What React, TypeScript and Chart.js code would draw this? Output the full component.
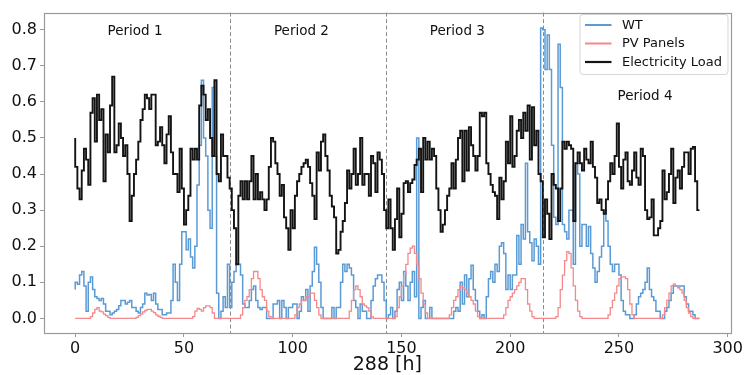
import React, { useEffect, useRef } from 'react';
import { Chart, registerables } from 'chart.js';

Chart.register(...registerables);

// ---------- data (hourly, 288 h) ----------
const LOAD_P1 = [
  0.50, 0.42, 0.36, 0.33, 0.41, 0.47, 0.44, 0.37, 0.57, 0.61, 0.49, 0.62, 0.55, 0.58, 0.38, 0.51, 0.46, 0.59, 0.67, 0.46,
  0.48, 0.54, 0.50, 0.45, 0.48, 0.40, 0.27, 0.34, 0.40, 0.44, 0.49, 0.55, 0.58, 0.62, 0.61,
  0.58, 0.62, 0.62, 0.48, 0.49, 0.53, 0.48, 0.43, 0.51, 0.56, 0.46, 0.40, 0.40, 0.35, 0.47, 0.36, 0.26, 0.30, 0.34, 0.47,
  0.44, 0.47, 0.44, 0.59, 0.645, 0.62, 0.55, 0.58, 0.50, 0.45, 0.66, 0.40, 0.38, 0.51, 0.45, 0.45, 0.39,
];
const LOAD_P2 = [
  0.36, 0.30, 0.25, 0.15, 0.34, 0.38, 0.33, 0.38, 0.33, 0.38, 0.45, 0.33, 0.40, 0.33, 0.35, 0.33, 0.30, 0.33, 0.42, 0.50,
  0.49, 0.43, 0.40, 0.34, 0.37, 0.28, 0.25, 0.19, 0.30, 0.25, 0.34, 0.38, 0.40, 0.42, 0.43,
  0.44, 0.42, 0.375, 0.34, 0.275, 0.46, 0.41, 0.49, 0.51, 0.45, 0.41, 0.34, 0.31, 0.28, 0.18, 0.19, 0.24, 0.27, 0.32, 0.41,
  0.36, 0.40, 0.47, 0.37, 0.40, 0.50, 0.37, 0.40, 0.40, 0.34, 0.45, 0.43, 0.35, 0.46, 0.44, 0.40, 0.30,
];
const LOAD_P3 = [
  0.25, 0.33, 0.25, 0.19, 0.275, 0.36, 0.225, 0.29, 0.375, 0.38, 0.35, 0.375, 0.385, 0.425, 0.44, 0.47, 0.35, 0.50, 0.44, 0.49,
  0.44, 0.47, 0.45, 0.36, 0.30, 0.24, 0.26, 0.30, 0.34, 0.36, 0.43, 0.36, 0.44, 0.50, 0.52,
  0.38, 0.52, 0.41, 0.53, 0.48, 0.45, 0.41, 0.45, 0.57, 0.56, 0.57, 0.43, 0.40, 0.37, 0.35, 0.34, 0.275, 0.39, 0.33, 0.38,
  0.49, 0.43, 0.56, 0.42, 0.45, 0.52, 0.55, 0.50, 0.57, 0.52, 0.59, 0.44, 0.585, 0.48, 0.52, 0.40, 0.38,
];
const LOAD_P4 = [
  0.225, 0.33, 0.29, 0.22, 0.40, 0.37, 0.36, 0.27, 0.36, 0.49, 0.47, 0.49, 0.48, 0.47, 0.27, 0.43, 0.46, 0.43, 0.41, 0.47,
  0.44, 0.43, 0.49, 0.42, 0.39, 0.32, 0.33, 0.30, 0.29, 0.33, 0.38, 0.43, 0.40, 0.45,
  0.54, 0.42, 0.36, 0.44, 0.46, 0.38, 0.37, 0.41, 0.46, 0.39, 0.37, 0.47, 0.45, 0.30, 0.275, 0.28, 0.33, 0.23, 0.23, 0.25,
  0.27, 0.41, 0.33, 0.35, 0.40, 0.47, 0.32, 0.39, 0.41, 0.36, 0.42, 0.46, 0.46, 0.40, 0.47, 0.475, 0.38, 0.30,
];

const WT_P1 = [
  0.08, 0.10, 0.095, 0.12, 0.13, 0.09, 0.02, 0.10, 0.115, 0.08, 0.06, 0.055, 0.05, 0.055, 0.04, 0.02, 0.02, 0.01, 0.015,
  0.02, 0.025, 0.035, 0.05, 0.05, 0.04, 0.045, 0.05, 0.03, 0.03, 0.02, 0.015, 0.03, 0.04, 0.07, 0.065,
  0.066, 0.05, 0.07, 0.04, 0.025, 0.025, 0.01, 0.01, 0.015, 0.015, 0.05, 0.15, 0.10, 0.05, 0.15, 0.24, 0.24, 0.19, 0.22, 0.17,
  0.14, 0.20, 0.37, 0.48, 0.66, 0.50, 0.45, 0.30, 0.25, 0.64, 0.45, 0.07, 0.0, 0.02, 0.06, 0.03, 0.15,
];
const WT_P2 = [
  0.03, 0.10, 0.13, 0.15, 0.15, 0.12, 0.04, 0.03, 0.03, 0.05, 0.08, 0.09, 0.05, 0.03, 0.025, 0.03, 0.03, 0.0, 0.0, 0.0,
  0.04, 0.04, 0.05, 0.0, 0.05, 0.03, 0.0, 0.03, 0.03, 0.04, 0.04, 0.0, 0.02, 0.06, 0.05,
  0.08, 0.02, 0.09, 0.13, 0.197, 0.15, 0.10, 0.03, 0.0, 0.0, 0.0, 0.0, 0.03, 0.0, 0.03, 0.03, 0.10, 0.15, 0.13, 0.15,
  0.14, 0.12, 0.05, 0.03, 0.0, 0.04, 0.02, 0.02, 0.0, 0.0, 0.05, 0.09, 0.11, 0.12, 0.12, 0.10, 0.05,
];
const WT_P3 = [
  0.0, 0.01, 0.03, 0.0, 0.02, 0.08, 0.10, 0.05, 0.13, 0.09, 0.05, 0.10, 0.13, 0.06, 0.50, 0.0, 0.03, 0.05, 0.0, 0.0,
  0.03, 0.0, 0.0, 0.0, 0.0, 0.0, 0.0, 0.0, 0.0, 0.0, 0.0, 0.02, 0.03, 0.02, 0.10,
  0.04, 0.12, 0.06, 0.11, 0.147, 0.08, 0.05, 0.02, 0.0, 0.01, 0.0, 0.06, 0.11, 0.13, 0.10, 0.15, 0.13, 0.20, 0.21, 0.18,
  0.08, 0.12, 0.08, 0.12, 0.12, 0.23, 0.15, 0.26, 0.22, 0.43, 0.24, 0.21, 0.16, 0.22, 0.20, 0.15, 0.805,
];
const WT_P4 = [
  0.80, 0.69, 0.785, 0.69, 0.48, 0.28, 0.26, 0.76, 0.64, 0.26, 0.24, 0.22, 0.30, 0.30, 0.15, 0.43, 0.40, 0.20, 0.26, 0.26,
  0.20, 0.255, 0.18, 0.14, 0.10, 0.13, 0.17, 0.20, 0.30, 0.27, 0.20, 0.15, 0.13, 0.15,
  0.15, 0.12, 0.05, 0.02, 0.01, 0.01, 0.0, 0.0, 0.01, 0.04, 0.06, 0.07, 0.08, 0.10, 0.14, 0.08, 0.06, 0.05, 0.02, 0.02,
  0.0, 0.0, 0.02, 0.03, 0.05, 0.07, 0.09, 0.09, 0.09, 0.09, 0.09, 0.06, 0.04, 0.02, 0.02, 0.01, 0.0, 0.0,
];

const PV_P1 = [
  0, 0, 0, 0, 0, 0, 0, 0, 0.005, 0.015, 0.025, 0.03, 0.02, 0.018, 0.012, 0.008, 0.003, 0, 0, 0, 0, 0, 0, 0,
  0, 0, 0, 0, 0, 0.003, 0.008, 0.012, 0.018, 0.022, 0.025, 0.025, 0.02, 0.016, 0.01, 0.006, 0.003, 0, 0, 0, 0, 0, 0, 0,
  0, 0, 0, 0, 0, 0, 0, 0.005, 0.02, 0.028, 0.025, 0.02, 0.03, 0.035, 0.035, 0.03, 0.015, 0, 0, 0, 0, 0, 0, 0,
];
const PV_P2 = [
  0, 0, 0, 0, 0, 0.01, 0.03, 0.05, 0.06, 0.08, 0.11, 0.13, 0.13, 0.11, 0.08, 0.06, 0.05, 0.02, 0.005, 0, 0, 0, 0, 0,
  0, 0, 0, 0, 0, 0, 0.01, 0.03, 0.04, 0.05, 0.05, 0.06, 0.06, 0.07, 0.07, 0.05, 0.03, 0.01, 0, 0, 0, 0, 0, 0,
  0, 0, 0, 0, 0, 0, 0, 0.02, 0.05, 0.08, 0.09, 0.08, 0.06, 0.04, 0.035, 0.03, 0.02, 0.005, 0, 0, 0, 0, 0, 0,
];
const PV_P3 = [
  0, 0, 0, 0, 0.005, 0.03, 0.06, 0.09, 0.12, 0.15, 0.18, 0.195, 0.20, 0.18, 0.15, 0.11, 0.07, 0.04, 0.015, 0, 0, 0, 0, 0,
  0, 0, 0, 0, 0, 0.01, 0.03, 0.05, 0.06, 0.08, 0.09, 0.085, 0.08, 0.07, 0.06, 0.05, 0.04, 0.02, 0.005, 0, 0, 0, 0, 0,
  0, 0, 0, 0, 0, 0, 0.01, 0.03, 0.05, 0.06, 0.07, 0.08, 0.09, 0.10, 0.11, 0.11, 0.08, 0.04, 0.02, 0.005, 0, 0, 0, 0,
];
const PV_P4 = [
  0, 0, 0, 0, 0, 0, 0.005, 0.03, 0.08, 0.12, 0.16, 0.185, 0.18, 0.14, 0.09, 0.05, 0.02, 0.005, 0, 0, 0, 0, 0, 0,
  0, 0, 0, 0, 0, 0, 0.01, 0.03, 0.05, 0.07, 0.09, 0.11, 0.115, 0.115, 0.11, 0.08, 0.04, 0.01, 0, 0, 0, 0, 0, 0,
  0, 0, 0, 0, 0, 0, 0, 0.01, 0.03, 0.05, 0.07, 0.09, 0.095, 0.09, 0.085, 0.08, 0.07, 0.05, 0.03, 0.015, 0.005, 0, 0, 0,
];

const LOAD = [...LOAD_P1, ...LOAD_P2, ...LOAD_P3, ...LOAD_P4];
const WT = [...WT_P1, ...WT_P2, ...WT_P3, ...WT_P4];
const PV = [...PV_P1, ...PV_P2, ...PV_P3, ...PV_P4];

const SERIES_NAMES = ['WT', 'PV Panels', 'Electricity Load'];
const X_TICKS = [0, 50, 100, 150, 200, 250, 300];
const Y_TICKS = [0.0, 0.1, 0.2, 0.3, 0.4, 0.5, 0.6, 0.7, 0.8];
const X_TITLE = '288 [h]';
const PERIOD_BOUNDS = [71, 143, 215];
const PERIOD_LABELS = ['Period 1', 'Period 2', 'Period 3', 'Period 4'];
const PERIOD_LABEL_X = [27.5, 104, 175.7, 262];
const PERIOD_LABEL_Y = [0.795, 0.795, 0.795, 0.616];

// ---------- styles ----------
const FONT = '"DejaVu Sans", "Liberation Sans", sans-serif';
const COLORS = { wt: '#5b9bd5', pv: '#f4898c', load: '#141414' };

const toXY = (arr: number[]) => arr.map((v, i) => ({ x: i, y: v }));

const overlayPlugin = {
  id: 'overlay',
  beforeDatasetsDraw(chart: any) {
    const { ctx, chartArea: a, scales } = chart;
    ctx.save();
    ctx.strokeStyle = '#8a8a8a';
    ctx.lineWidth = 1;
    ctx.setLineDash([4, 2.5]);
    PERIOD_BOUNDS.forEach((b) => {
      const px = Math.round(scales.x.getPixelForValue(b)) + 0.5;
      ctx.beginPath();
      ctx.moveTo(px, a.top);
      ctx.lineTo(px, a.bottom);
      ctx.stroke();
    });
    ctx.restore();
  },
  afterDatasetsDraw(chart: any) {
    const { ctx, scales } = chart;
    ctx.save();
    // period labels
    ctx.fillStyle = '#111';
    ctx.font = `13.5px ${FONT}`;
    ctx.textAlign = 'center';
    ctx.textBaseline = 'middle';
    PERIOD_LABELS.forEach((t, i) => {
      ctx.fillText(t, scales.x.getPixelForValue(PERIOD_LABEL_X[i]), scales.y.getPixelForValue(PERIOD_LABEL_Y[i]));
    });
    // legend
    const bx = 580, by = 14.5, bw = 148, bh = 60, r = 3;
    ctx.beginPath();
    ctx.moveTo(bx + r, by);
    ctx.lineTo(bx + bw - r, by);
    ctx.quadraticCurveTo(bx + bw, by, bx + bw, by + r);
    ctx.lineTo(bx + bw, by + bh - r);
    ctx.quadraticCurveTo(bx + bw, by + bh, bx + bw - r, by + bh);
    ctx.lineTo(bx + r, by + bh);
    ctx.quadraticCurveTo(bx, by + bh, bx, by + bh - r);
    ctx.lineTo(bx, by + r);
    ctx.quadraticCurveTo(bx, by, bx + r, by);
    ctx.closePath();
    ctx.fillStyle = 'rgba(255,255,255,0.85)';
    ctx.fill();
    ctx.strokeStyle = '#d6d6d6';
    ctx.lineWidth = 1;
    ctx.stroke();
    const cols = [COLORS.wt, COLORS.pv, COLORS.load];
    const widths = [2, 2, 2.2];
    const rows = [25, 43.5, 62];
    ctx.textAlign = 'left';
    ctx.font = `13px ${FONT}`;
    SERIES_NAMES.forEach((n, i) => {
      ctx.strokeStyle = cols[i];
      ctx.lineWidth = widths[i];
      ctx.beginPath();
      ctx.moveTo(585, rows[i]);
      ctx.lineTo(611.5, rows[i]);
      ctx.stroke();
      ctx.fillStyle = '#111';
      ctx.fillText(n, 622, rows[i] + 0.5);
    });
    ctx.restore();
  },
  afterDraw(chart: any) {
    const { ctx, chartArea: a } = chart;
    ctx.save();
    ctx.strokeStyle = '#9a9a9a';
    ctx.lineWidth = 1.2;
    ctx.strokeRect(Math.round(a.left) + 0.5, Math.round(a.top) + 0.5, Math.round(a.right - a.left), Math.round(a.bottom - a.top));
    ctx.restore();
  },
};

export default function App() {
  const ref = useRef<HTMLCanvasElement | null>(null);

  useEffect(() => {
    if (!ref.current) return;
    const chart = new Chart(ref.current, {
      type: 'line',
      data: {
        datasets: [
          {
            label: SERIES_NAMES[2],
            data: toXY(LOAD),
            borderColor: COLORS.load,
            borderWidth: 1.9,
            stepped: 'after',
            pointRadius: 0,
            fill: false,
          },
          {
            label: SERIES_NAMES[1],
            data: toXY(PV),
            borderColor: COLORS.pv,
            borderWidth: 1.3,
            stepped: 'after',
            pointRadius: 0,
            fill: false,
          },
          {
            label: SERIES_NAMES[0],
            data: toXY(WT),
            borderColor: COLORS.wt,
            borderWidth: 1.5,
            stepped: 'after',
            pointRadius: 0,
            fill: false,
          },
        ],
      },
      options: {
        animation: false,
        responsive: false,
        events: [],
        layout: { padding: { left: 0, right: 10, top: 8, bottom: 0 } },
        plugins: { legend: { display: false }, tooltip: { enabled: false } },
        scales: {
          x: {
            type: 'linear',
            min: -14.35,
            max: 301.35,
            afterBuildTicks: (s: any) => {
              s.ticks = X_TICKS.map((v) => ({ value: v }));
            },
            afterFit: (s: any) => {
              s.height = 42;
            },
            border: { display: false },
            grid: { display: true, drawOnChartArea: false, drawTicks: true, tickLength: 4, color: '#9a9a9a' },
            ticks: {
              autoSkip: false,
              maxRotation: 0,
              padding: 2,
              color: '#111',
              font: { family: FONT, size: 16 },
              callback: (v: any) => String(v),
            },
            title: {
              display: true,
              text: X_TITLE,
              color: '#111',
              font: { family: FONT, size: 19, lineHeight: 1.0 },
              padding: { top: 0, bottom: 0 },
            },
          },
          y: {
            type: 'linear',
            min: -0.0404,
            max: 0.8474,
            afterBuildTicks: (s: any) => {
              s.ticks = Y_TICKS.map((v) => ({ value: v }));
            },
            afterFit: (s: any) => {
              s.width = 44;
            },
            border: { display: false },
            grid: { display: true, drawOnChartArea: false, drawTicks: true, tickLength: 4, color: '#9a9a9a' },
            ticks: {
              padding: 3,
              color: '#111',
              font: { family: FONT, size: 16 },
              callback: (v: any) => Number(v).toFixed(1),
            },
          },
        },
      },
      plugins: [overlayPlugin],
    });
    return () => chart.destroy();
  }, []);

  return (
    <div style={{ position: 'absolute', left: 0, top: 0, width: 745, height: 375, background: '#fff' }}>
      <canvas ref={ref} width={745} height={375} style={{ display: 'block', width: 745, height: 375 }} />
    </div>
  );
}
